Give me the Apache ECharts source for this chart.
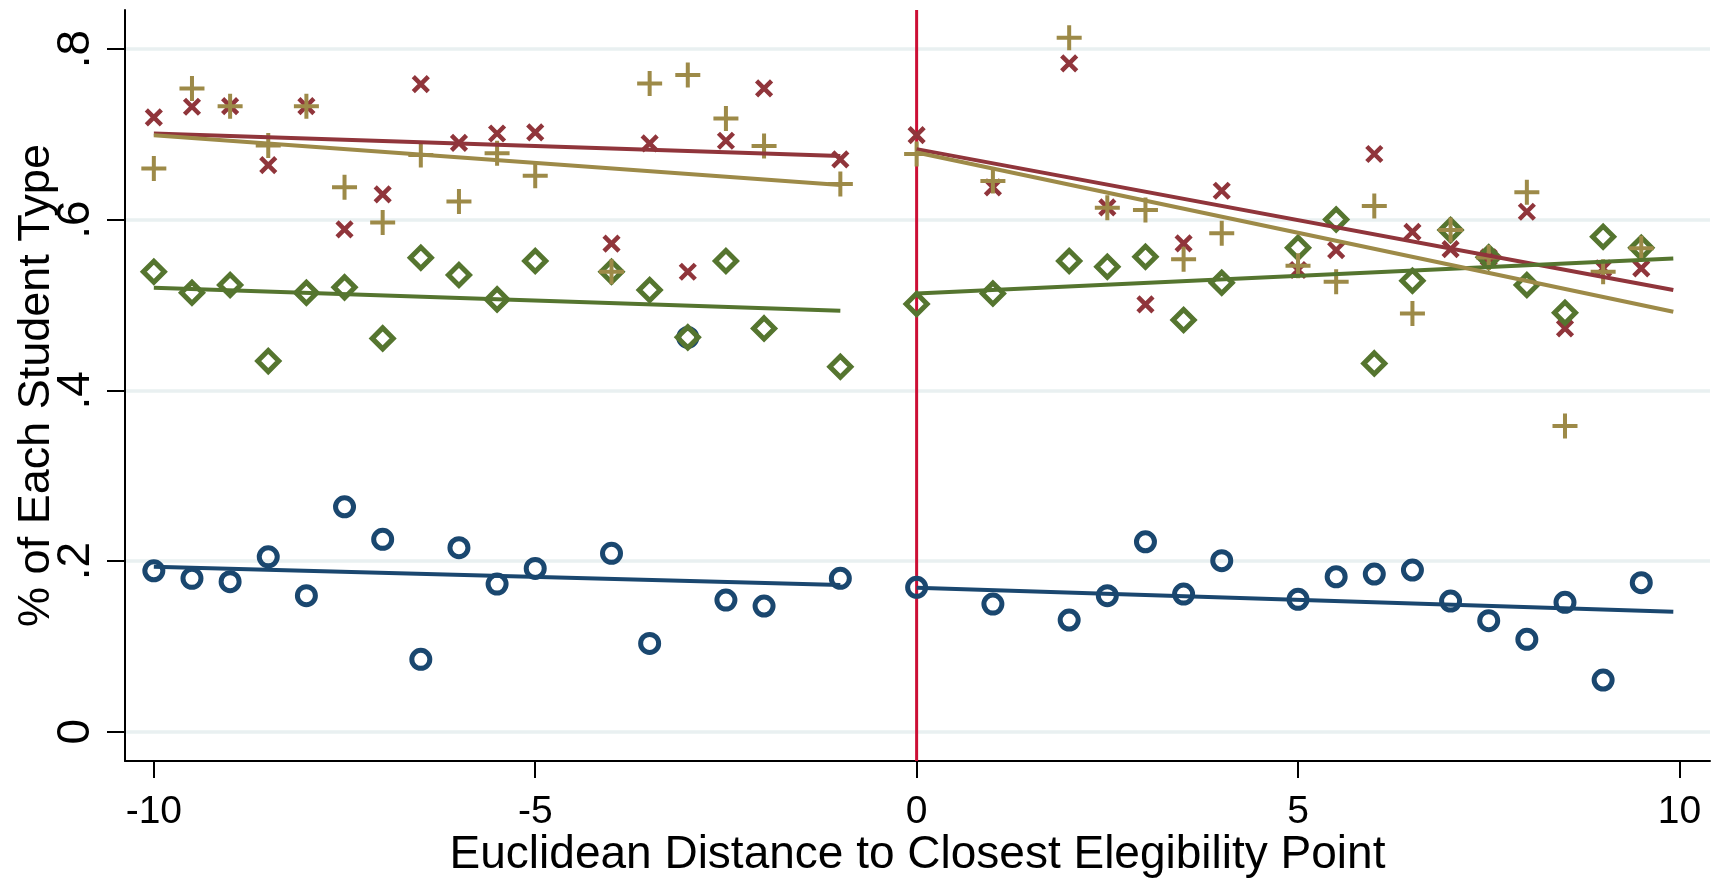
<!DOCTYPE html>
<html>
<head>
<meta charset="utf-8">
<script src="https://cdn.jsdelivr.net/npm/echarts@6/dist/echarts.min.js"></script>
<style>html,body{margin:0;padding:0;background:#fff;}#c{width:1717px;height:883px;}</style>
</head>
<body>
<div id="c"></div>
<script>
// ---- data ----
const xLeft  = [-10,-9.5,-9,-8.5,-8,-7.5,-7,-6.5,-6,-5.5,-5,-4,-3.5,-3,-2.5,-2,-1];
const xRight = [0,1,2,2.5,3,3.5,4,5,5.5,6,6.5,7,7.5,8,8.5,9,9.5];

const navyLeft   = [0.1886,0.1797,0.1758,0.205,0.1594,0.2636,0.2254,0.0848,0.2156,0.173,0.1914,0.209,0.1035,0.462,0.1543,0.1473,0.1797];
const navyRight  = [0.1692,0.1496,0.1309,0.1594,0.2226,0.1613,0.2004,0.1551,0.1816,0.1848,0.1895,0.1531,0.1301,0.1083,0.1516,0.0606,0.1746];
const maroonLeft = [0.7198,0.7323,0.733,0.664,0.733,0.5886,0.6296,0.7589,0.690,0.701,0.7023,0.572,0.6894,0.539,0.6925,0.7538,0.6706];
const maroonRight= [0.699,0.6378,0.7831,0.6144,0.5007,0.5722,0.6339,0.541,0.5644,0.677,0.5858,0.5656,0.556,0.6093,0.4726,0.543,0.543];
const greenLeft  = [0.539,0.5144,0.5234,0.4343,0.5144,0.5207,0.4609,0.5554,0.5351,0.5066,0.5515,0.539,0.5175,0.4621,0.5515,0.4726,0.4277];
const greenRight = [0.5011,0.5136,0.5515,0.5448,0.5566,0.4824,0.526,0.567,0.6003,0.4316,0.5284,0.5878,0.556,0.5234,0.4909,0.580,0.567];
const goldLeft   = [0.660,0.7538,0.733,0.687,0.733,0.638,0.5968,0.6757,0.6214,0.6777,0.6514,0.539,0.7597,0.7694,0.7187,0.6862,0.6417];
const goldRight  = [0.6769,0.6452,0.8131,0.614,0.6113,0.5535,0.584,0.546,0.5273,0.616,0.4901,0.5878,0.5558,0.632,0.3582,0.539,0.5664];

// fitted line end points
const fitXLeft  = [-10, -1];
const fitXRight = [0, 9.92];
const fitNavyL = [0.1933, 0.1719],  fitNavyR = [0.1688, 0.1406];
const fitMaroonL = [0.701, 0.6745], fitMaroonR = [0.6827, 0.5175];
const fitGreenL = [0.5202, 0.4933], fitGreenR = [0.5136, 0.5546];
const fitGoldL = [0.699, 0.6405],   fitGoldR = [0.6788, 0.4921];

const xTicks = [-10,-5,0,5,10];
const yTicks = [0,0.2,0.4,0.6,0.8];
const xRange = [-10.378, 10.401];
const yRange = [-0.0343, 0.8457];
const cutoff = 0;

// ---- build ----
const C = {navy:'#1a476f', maroon:'#90353b', green:'#55752f', gold:'#9d8a48', red:'#cc0f35'};
const pts = (xs, ys) => xs.map((x,i)=>[x, ys[i]]);
const FONT = '"Liberation Sans", Arial, Helvetica, sans-serif';

function scatter(data, symbol, size, color, bw, join) {
  return {type:'scatter', data, symbol, symbolSize:size, silent:true,
    itemStyle:{color:'rgba(0,0,0,0)', borderColor:color, borderWidth:bw, borderJoin:join||'miter', opacity:1}};
}
function fit(xs, ys, color) {
  return {type:'line', data:pts(xs, ys), showSymbol:false, silent:true, z:3,
    lineStyle:{color, width:4}};
}
const X_SYM = 'path://M0,0L10,10M10,0L0,10';
const P_SYM = 'path://M5,0L5,10M0,5L10,5';

const series = [
  {type:'line', data:[[cutoff, yRange[0]],[cutoff, yRange[1]]], showSymbol:false, silent:true, z:1,
   lineStyle:{color:C.red, width:3}},
  scatter(pts(xLeft, navyLeft), 'circle', 18, C.navy, 5),
  scatter(pts(xRight, navyRight), 'circle', 18, C.navy, 5),
  scatter(pts(xLeft, maroonLeft), X_SYM, 15, C.maroon, 4.5),
  scatter(pts(xRight, maroonRight), X_SYM, 15, C.maroon, 4.5),
  scatter(pts(xLeft, greenLeft), 'diamond', 21, C.green, 5),
  scatter(pts(xRight, greenRight), 'diamond', 21, C.green, 5),
  scatter(pts(xLeft, goldLeft), P_SYM, 25, C.gold, 4),
  scatter(pts(xRight, goldRight), P_SYM, 25, C.gold, 4),
  fit(fitXLeft, fitNavyL, C.navy), fit(fitXRight, fitNavyR, C.navy),
  fit(fitXLeft, fitMaroonL, C.maroon), fit(fitXRight, fitMaroonR, C.maroon),
  fit(fitXLeft, fitGreenL, C.green), fit(fitXRight, fitGreenR, C.green),
  fit(fitXLeft, fitGoldL, C.gold), fit(fitXRight, fitGoldR, C.gold)
];

const chart = echarts.init(document.getElementById('c'), null, {renderer:'canvas'});
chart.setOption({
  animation:false,
  backgroundColor:'#fff',
  grid:{left:125, top:10, right:7, bottom:122, containLabel:false, outerBoundsMode:'none'},
  xAxis:{type:'value', min:xRange[0], max:xRange[1],
    name:'Euclidean Distance to Closest Elegibility Point', nameLocation:'middle', nameGap:71,
    nameMoveOverlap:false,
    nameTextStyle:{fontFamily:FONT, fontSize:46, color:'#000'},
    axisLine:{show:true, onZero:false, lineStyle:{color:'#000', width:2}},
    axisTick:{show:true, length:17, lineStyle:{color:'#000', width:2}, customValues:xTicks},
    axisLabel:{fontFamily:FONT, fontSize:39, color:'#000', margin:32, customValues:xTicks,
      formatter:v=>String(v)},
    splitLine:{show:false}},
  yAxis:{type:'value', min:yRange[0], max:yRange[1],
    name:'% of Each Student Type', nameLocation:'middle', nameGap:66, nameRotate:90,
    nameMoveOverlap:false,
    nameTextStyle:{fontFamily:FONT, fontSize:45, color:'#000'},
    axisLine:{show:true, onZero:false, lineStyle:{color:'#000', width:2}},
    axisTick:{show:true, length:18, lineStyle:{color:'#000', width:2}, customValues:yTicks},
    axisLabel:{fontFamily:FONT, fontSize:46, color:'#000', margin:26, rotate:90, customValues:yTicks,
      formatter:v=>{ if (Math.abs(v)<1e-9) return '0'; return String(Math.round(v*10)/10).replace(/^0\./,'.'); }},
    splitLine:{show:true, lineStyle:{color:'#e9f0f1', width:3.5}}},
  series
});
</script>
</body>
</html>
